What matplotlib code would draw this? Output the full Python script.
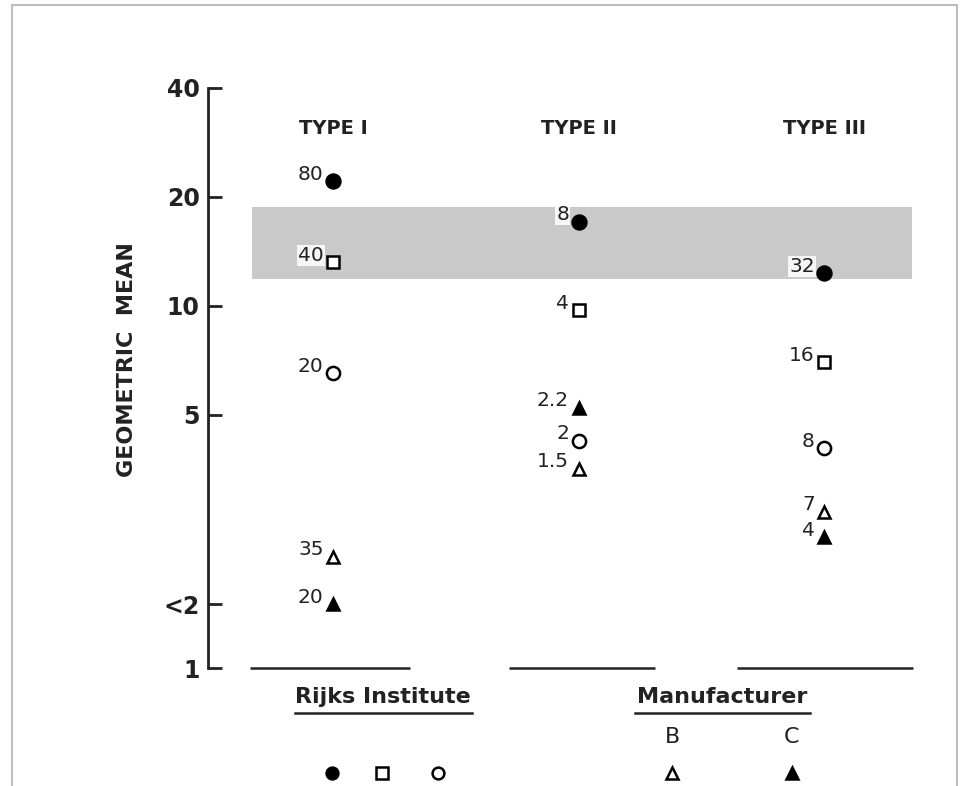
import numpy as np
import matplotlib.pyplot as plt
from matplotlib.patches import Rectangle
from matplotlib.lines import Line2D

plt.rcParams['font.family'] = ['DejaVu Sans']

# Data
types = ['TYPE I', 'TYPE II', 'TYPE III']
rijks_closed = [22.1, 17.1, 12.3]
rijks_closed_n = ['80', '8', '32']
rijks_square = [13.2, 9.75, 7.0]
rijks_square_n = ['40', '4', '16']
rijks_open = [6.53, 4.24, 4.05]
rijks_open_n = ['20', '2', '8']
manuf_b = [2.03, 3.55, 2.70]
manuf_b_n = ['35', '1.5', '7']
manuf_c = [1.5, 5.23, 2.30]
manuf_c_n = ['20', '2.2', '4']
band = (11.9, 18.8)
yticks = [1, 1.5, 5, 10, 20, 40]
yticklabels = ['1', '<2', '5', '10', '20', '40']

fig = plt.figure(figsize=(9.61, 7.86), dpi=100)
ax = fig.add_axes([208/961, 1-668/786, 722/961, 580/786])
ax.set_yscale('log')
ax.set_ylim(1, 40)
ax.set_xlim(0.49, 3.43)

x = np.arange(1, len(types) + 1)

# reference band
ax.axhspan(band[0], band[1], xmin=(0.669-0.49)/2.94, xmax=(3.357-0.49)/2.94,
           facecolor='#c9c9c9', edgecolor='none', zorder=0)

series = [
    (rijks_closed, rijks_closed_n, 'o', 'black', 10),
    (rijks_square, rijks_square_n, 's', 'white', 9),
    (rijks_open, rijks_open_n, 'o', 'white', 9.5),
    (manuf_b, manuf_b_n, '^', 'white', 9),
    (manuf_c, manuf_c_n, '^', 'black', 9),
]
for vals, labels, mk, fc, ms in series:
    ax.plot(x, vals, linestyle='none', marker=mk, markersize=ms,
            markerfacecolor=fc, markeredgecolor='black', markeredgewidth=1.8,
            zorder=3)
    for xi, v, lab in zip(x, vals, labels):
        ax.annotate(lab, (xi, v), xytext=(-7, 5), textcoords='offset points',
                    ha='right', va='center', fontsize=14.5, color='#222222',
                    bbox=dict(boxstyle='square,pad=0.05', fc='white', ec='none', alpha=0.85),
                    zorder=4)

# type headers
for xi, t in zip(x, types):
    ax.text(xi, 0.931, t, transform=ax.get_xaxis_transform(), ha='center',
            va='center', fontsize=14, fontweight='bold', color='#222222')

# group baselines
segs = [(0.661, 1.313), (1.716, 2.310), (2.644, 3.361)]
for a, b in segs:
    ax.plot([a, b], [1, 1], color='#222222', lw=1.8, clip_on=False, solid_capstyle='butt')

for s in ['top', 'right', 'bottom']:
    ax.spines[s].set_visible(False)
ax.spines['left'].set_linewidth(2)
ax.spines['left'].set_color('#222222')
ax.set_yticks(yticks)
ax.set_yticklabels(yticklabels)
ax.yaxis.set_minor_locator(plt.NullLocator())
ax.tick_params(axis='y', direction='in', length=10, width=2, pad=6,
               labelsize=17, colors='#222222')
for lab in ax.get_yticklabels():
    lab.set_fontweight('bold')
ax.set_xticks([])

fig.text(0.132, 0.542, 'GEOMETRIC  MEAN', rotation=90, ha='center', va='center',
         fontsize=16, fontweight='bold', color='#222222')

# bottom key
fig.text(0.3986, 0.1132, 'Rijks Institute', ha='center', va='center',
         fontsize=16, fontweight='bold', color='#222222')
fig.text(0.7513, 0.1132, 'Manufacturer', ha='center', va='center',
         fontsize=16, fontweight='bold', color='#222222')
fig.add_artist(Line2D([0.307, 0.491], [0.0929, 0.0929], color='#222222', lw=1.8))
fig.add_artist(Line2D([0.661, 0.843], [0.0929, 0.0929], color='#222222', lw=1.8))
fig.text(0.6993, 0.0623, 'B', ha='center', va='center', fontsize=16, color='#222222')
fig.text(0.8241, 0.0623, 'C', ha='center', va='center', fontsize=16, color='#222222')

key = [(0.3455, 'o', 'black'), (0.3975, 's', 'white'), (0.4558, 'o', 'white'),
       (0.6993, '^', 'white'), (0.8241, '^', 'black')]
for kx, mk, fc in key:
    fig.add_artist(Line2D([kx], [0.0165], marker=mk, markersize=8.5,
                          markerfacecolor=fc, markeredgecolor='black',
                          markeredgewidth=1.8, linestyle='none'))

# scan frame
fig.add_artist(Rectangle((0.0125, -0.05), 0.983, 1.0436, transform=fig.transFigure,
                         fill=False, edgecolor='#bdbdbd', lw=1.5))

fig.savefig('out.png', dpi=100)
